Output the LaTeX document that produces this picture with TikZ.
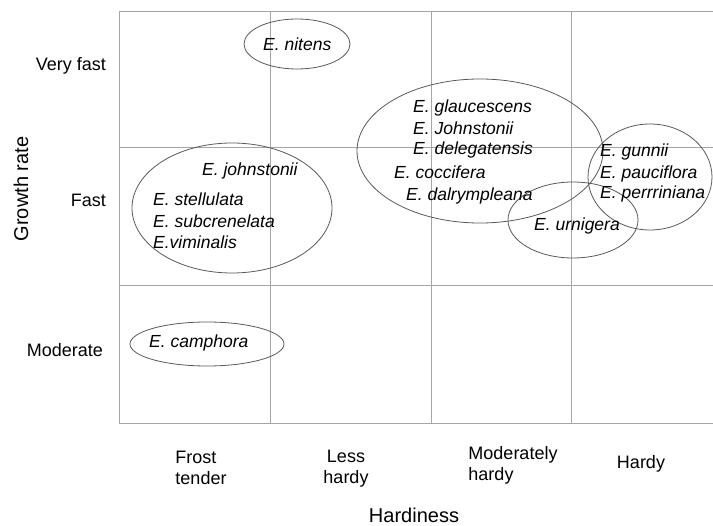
\documentclass[tikz,border=0pt]{standalone}
\usepackage{fontspec}
\setmainfont{Liberation Sans}
\usetikzlibrary{positioning}

\tikzset{
  species/.style={font=\fontsize{17.5}{21}\selectfont\itshape, anchor=mid west, inner sep=0pt},
  rowlab/.style={font=\fontsize{18}{21}\selectfont, anchor=mid east, inner sep=0pt},
  collab/.style={font=\fontsize{18}{21}\selectfont, inner sep=0pt},
  axislab/.style={font=\fontsize{20}{24}\selectfont, inner sep=0pt},
  cell/.style={draw=black!35, line width=0.9pt},
  group/.style={draw=black!65, line width=0.8pt}
}

\begin{document}
\begin{tikzpicture}[x=1pt,y=-1pt]
\useasboundingbox (0,0) rectangle (713,526);

% table
\draw[cell] (713,11) -- (119,11) -- (119,423) -- (713,423);
\draw[cell] (119,147) -- (713,147);
\draw[cell] (119,285) -- (713,285);
\draw[cell] (270,11) -- (270,423);
\draw[cell] (431,11) -- (431,423);
\draw[cell] (571,11) -- (571,423);

% groups
\draw[group] (297,44) ellipse (53 and 25);
\draw[group] (232,208) ellipse (100 and 65);
\draw[group] (480,151) ellipse (123 and 72);
\draw[group] (573,220) ellipse (65 and 38);
\draw[group] (650,177) ellipse (62 and 53);
\draw[group] (207,344) ellipse (77 and 22);

% species
\node[species] (nitens) at (263,48) {E. nitens};
\node[species] (johnstonii) at (202,173) {E. johnstonii};
\node[species] (stellulata) at (153,203) {E. stellulata};
\node[species] (subcrenelata) at (153,225) {E. subcrenelata};
\node[species] (viminalis) at (153,246) {E.viminalis};
\node[species] (glaucescens) at (413,110) {E. glaucescens};
\node[species] (Johnstonii) at (413,132) {E. Johnstonii};
\node[species] (delegatensis) at (413,152) {E. delegatensis};
\node[species] (coccifera) at (394,176) {E. coccifera};
\node[species] (dalrympleana) at (406,198) {E. dalrympleana};
\node[species] (urnigera) at (534,228) {E. urnigera};
\node[species] (gunnii) at (600,154) {E. gunnii};
\node[species] (pauciflora) at (600,176) {E. pauciflora};
\node[species] (perrriniana) at (600,196) {E. perrriniana};
\node[species] (camphora) at (149,345) {E. camphora};

% growth rate
\node[rowlab] (veryfast) at (106,68) {Very fast};
\node[rowlab] (fast) at (106,204) {Fast};
\node[rowlab] (moderate) at (103,354) {Moderate};
\node[axislab, rotate=90] (growth) at (21,189) {Growth rate};

% hardiness
\node[collab, align=left] (frost) at (201,468) {Frost\\tender};
\node[collab, align=center] (less) at (346,469) {Less\\hardy};
\node[collab, align=left] (modhardy) at (513,465) {Moderately\\hardy};
\node[collab] (hardy) at (641,464) {Hardy};
\node[axislab, anchor=base] (hardiness) at (414,523) {Hardiness};
\end{tikzpicture}
\end{document}
